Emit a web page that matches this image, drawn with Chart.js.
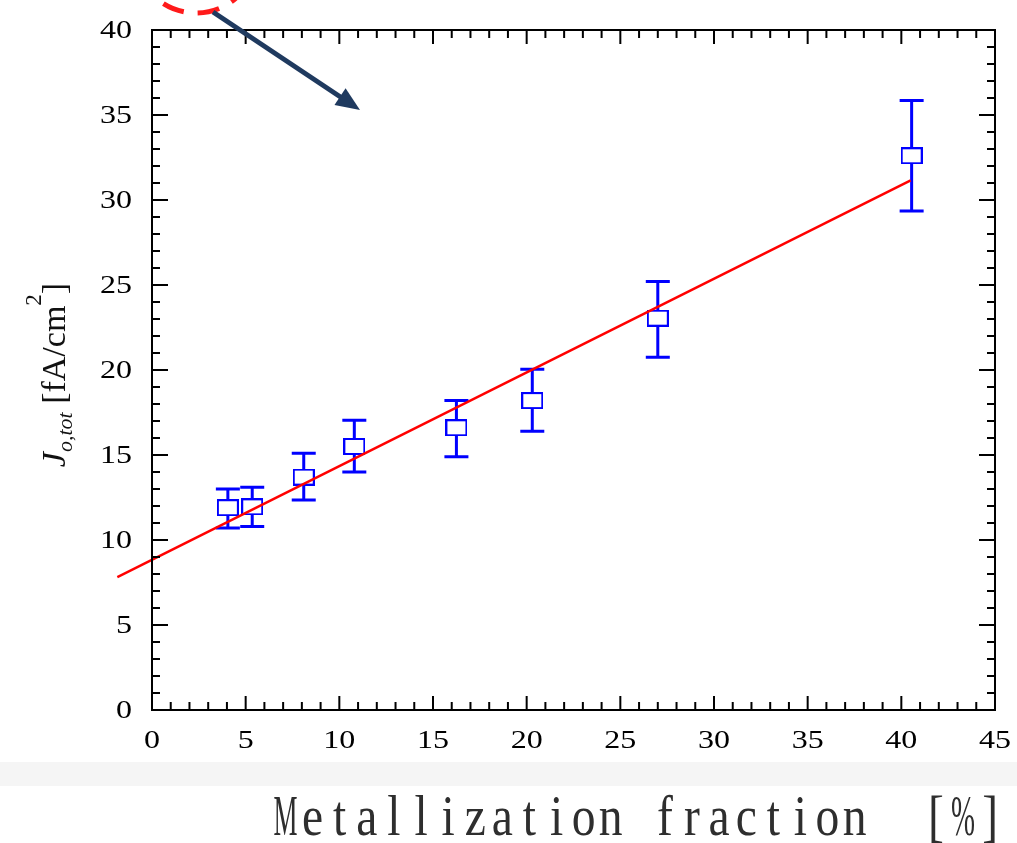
<!DOCTYPE html>
<html>
<head>
<meta charset="utf-8">
<script src="https://cdn.jsdelivr.net/npm/chart.js@4.4.1/dist/chart.umd.min.js"></script>
<style>
  body { margin: 0; background: #ffffff; }
  canvas { display: block; }
</style>
</head>
<body>
<canvas id="jChart" width="1017" height="843"></canvas>
<script>
// measured points (metallization fraction vs J0,tot)
const xValues = [4.05, 5.35, 8.1, 10.8, 16.25, 20.3, 27.0, 40.55];
const yValues = [11.9, 11.95, 13.7, 15.5, 16.6, 18.2, 23.05, 32.6];
const yErrLow = [10.7, 10.8, 12.35, 14.0, 14.9, 16.4, 20.75, 29.35];
const yErrHigh = [13.0, 13.1, 15.1, 17.05, 18.2, 20.05, 25.2, 35.85];

// red fit line end points
const fitX = [-1.85, 40.5];
const fitY = [7.82, 31.15];

// tick labels
const xTicks = [0, 5, 10, 15, 20, 25, 30, 35, 40, 45];
const yTicks = [0, 5, 10, 15, 20, 25, 30, 35, 40];

const serif = '"Liberation Serif", "Times New Roman", serif';

// hollow box marker
const marker = document.createElement('canvas');
marker.width = 22;
marker.height = 17;
const mctx = marker.getContext('2d');
mctx.fillStyle = '#ffffff';
mctx.fillRect(1, 1, 20, 15);
mctx.strokeStyle = '#0000ff';
mctx.lineWidth = 2;
mctx.strokeRect(1, 1, 20, 15);

function stretchedText(ctx, str, x, y, font, sx, sy, align) {
    ctx.save();
    ctx.translate(x, y);
    ctx.scale(sx, sy);
    ctx.font = font;
    ctx.textAlign = align;
    ctx.textBaseline = 'alphabetic';
    ctx.fillText(str, 0, 0);
    ctx.restore();
}

const backgroundBand = {
    id: 'backgroundBand',
    beforeDraw(chart) {
        const ctx = chart.ctx;
        ctx.save();
        ctx.fillStyle = '#f5f5f5';
        ctx.fillRect(0, 762, chart.width, 24);
        ctx.restore();
    }
};

const errorBars = {
    id: 'errorBars',
    beforeDatasetsDraw(chart) {
        const ctx = chart.ctx;
        const xs = chart.scales.x, ys = chart.scales.y;
        ctx.save();
        ctx.strokeStyle = '#0000ff';
        ctx.lineWidth = 3;
        for (let i = 0; i < xValues.length; i++) {
            const px = xs.getPixelForValue(xValues[i]);
            const lo = ys.getPixelForValue(yErrLow[i]);
            const hi = ys.getPixelForValue(yErrHigh[i]);
            ctx.beginPath();
            ctx.moveTo(px, lo);
            ctx.lineTo(px, hi);
            ctx.moveTo(px - 12, lo);
            ctx.lineTo(px + 12, lo);
            ctx.moveTo(px - 12, hi);
            ctx.lineTo(px + 12, hi);
            ctx.stroke();
        }
        ctx.restore();
    }
};

const frameAndText = {
    id: 'frameAndText',
    afterDraw(chart) {
        const ctx = chart.ctx;
        const {left, right, top, bottom} = chart.chartArea;
        const xs = chart.scales.x, ys = chart.scales.y;
        ctx.save();

        // frame with inward ticks on all sides
        ctx.strokeStyle = '#000000';
        ctx.lineWidth = 2;
        ctx.strokeRect(left, top, right - left, bottom - top);
        ctx.beginPath();
        for (let v = xs.min; v <= xs.max; v++) {
            const px = xs.getPixelForValue(v);
            const len = v % 5 === 0 ? 14 : 8;
            ctx.moveTo(px, bottom);
            ctx.lineTo(px, bottom - len);
            ctx.moveTo(px, top);
            ctx.lineTo(px, top + len);
        }
        for (let v = ys.min; v <= ys.max; v++) {
            const py = ys.getPixelForValue(v);
            const len = v % 5 === 0 ? 16 : 8;
            ctx.moveTo(left, py);
            ctx.lineTo(left + len, py);
            ctx.moveTo(right, py);
            ctx.lineTo(right - len, py);
        }
        ctx.stroke();

        // tick labels
        ctx.fillStyle = '#000000';
        xTicks.forEach(v => {
            stretchedText(ctx, String(v), xs.getPixelForValue(v), 748, '25px ' + serif, 1.28, 1, 'center');
        });
        yTicks.forEach(v => {
            stretchedText(ctx, String(v), left - 20, ys.getPixelForValue(v) + 8, '25px ' + serif, 1.28, 1, 'right');
        });

        // y axis title: J_{o,tot} [fA/cm^2]
        const parts = [
            {t: 'J', f: 'italic 34px ' + serif, dy: 0},
            {t: 'o,tot', f: 'italic 22px ' + serif, dy: 7},
            {t: ' [fA/cm', f: '34px ' + serif, dy: 0},
            {t: '2', f: '23px ' + serif, dy: -24},
            {t: ']', f: '34px ' + serif, dy: 0}
        ];
        let total = 0;
        parts.forEach(p => { ctx.font = p.f; p.w = ctx.measureText(p.t).width; total += p.w; });
        ctx.save();
        ctx.translate(65, 375);
        ctx.rotate(-Math.PI / 2);
        ctx.fillStyle = '#111111';
        ctx.textAlign = 'left';
        ctx.textBaseline = 'alphabetic';
        let cx = -total / 2;
        parts.forEach(p => {
            ctx.font = p.f;
            ctx.fillText(p.t, cx, p.dy);
            cx += p.w;
        });
        ctx.restore();

        // x axis title, fixed pitch like the original
        const title = 'Metallization fraction  [%]';
        const titleFont = '56px ' + serif;
        ctx.fillStyle = '#2e2e2e';
        ctx.font = titleFont;
        for (let i = 0; i < title.length; i++) {
            if (title[i] === ' ') continue;
            const w = ctx.measureText(title[i]).width;
            const sx = Math.min(0.85, 24 / w);
            stretchedText(ctx, title[i], 272 + i * 27.1 + 13.5, 835, titleFont, sx, 1, 'center');
        }

        // red dashed circle and arrow annotation
        ctx.strokeStyle = '#ff1a1a';
        ctx.lineWidth = 5;
        ctx.setLineDash([22, 14]);
        ctx.beginPath();
        ctx.arc(196, -48, 61, 0, Math.PI * 2);
        ctx.stroke();
        ctx.setLineDash([]);

        const x0 = 213, y0 = 12, x1 = 360, y1 = 110;
        const ang = Math.atan2(y1 - y0, x1 - x0);
        ctx.strokeStyle = '#1f3a5f';
        ctx.fillStyle = '#1f3a5f';
        ctx.lineWidth = 5;
        ctx.beginPath();
        ctx.moveTo(x0, y0);
        ctx.lineTo(x1 - 18 * Math.cos(ang), y1 - 18 * Math.sin(ang));
        ctx.stroke();
        ctx.beginPath();
        ctx.moveTo(x1, y1);
        ctx.lineTo(x1 - 24 * Math.cos(ang) + 10 * Math.sin(ang), y1 - 24 * Math.sin(ang) - 10 * Math.cos(ang));
        ctx.lineTo(x1 - 24 * Math.cos(ang) - 10 * Math.sin(ang), y1 - 24 * Math.sin(ang) + 10 * Math.cos(ang));
        ctx.closePath();
        ctx.fill();

        ctx.restore();
    }
};

function drawChart() {
    const ctx = document.getElementById('jChart').getContext('2d');
    new Chart(ctx, {
        type: 'scatter',
        data: {
            datasets: [
                {
                    type: 'line',
                    data: fitX.map((x, i) => ({x: x, y: fitY[i]})),
                    borderColor: '#ff0000',
                    borderWidth: 2.5,
                    pointRadius: 0,
                    fill: false,
                    clip: false
                },
                {
                    data: xValues.map((x, i) => ({x: x, y: yValues[i]})),
                    pointStyle: marker,
                    pointRadius: 10,
                    borderWidth: 0
                }
            ]
        },
        options: {
            responsive: false,
            animation: false,
            devicePixelRatio: 1,
            layout: {padding: {top: 30, right: 22, left: 0, bottom: 0}},
            plugins: {
                legend: {display: false},
                tooltip: {enabled: false}
            },
            scales: {
                x: {
                    type: 'linear',
                    min: 0,
                    max: 45,
                    ticks: {display: false},
                    grid: {display: false},
                    border: {display: false},
                    afterFit: s => { s.height = 133; }
                },
                y: {
                    type: 'linear',
                    min: 0,
                    max: 40,
                    ticks: {display: false},
                    grid: {display: false},
                    border: {display: false},
                    afterFit: s => { s.width = 152; }
                }
            }
        },
        plugins: [backgroundBand, errorBars, frameAndText]
    });
}

Promise.all([
    document.fonts.load('24px "Liberation Serif"'),
    document.fonts.load('italic 24px "Liberation Serif"')
]).then(drawChart, drawChart);
</script>
</body>
</html>
